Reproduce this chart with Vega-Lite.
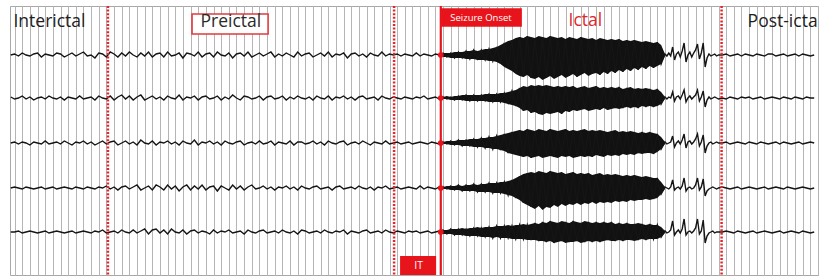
{
"$schema": "https://vega.github.io/schema/vega-lite/v6.json",
"width": 808, "height": 269,
"autosize": {"type": "none"},
"padding": {"left": 10, "top": 6, "right": 2, "bottom": 4},
"background": "white",
"config": {
  "font": "Open Sans",
  "view": {"stroke": "#a8a8a8", "strokeWidth": 1},
  "axisX": {"grid": true, "labels": false, "ticks": false, "domain": false, "tickCount": 106, "gridColor": "#b5b5b5", "gridWidth": 1, "gridOpacity": 1}
},
"datasets": {
"eeg": [
{"t":-0.5,"a":0,"b":1,"c":0,"d":0,"e":0},
{"t":0,"a":1,"b":-1,"c":1,"d":1,"e":0},
{"t":0.5,"a":-1,"b":0,"c":-1,"d":0,"e":1},
{"t":1,"a":2,"b":2,"c":1,"d":-1,"e":-1},
{"t":1.5,"a":0,"b":-1,"c":0,"d":1,"e":0},
{"t":2,"a":-1,"b":1,"c":-2,"d":0,"e":1},
{"t":2.5,"a":1,"b":-2,"c":1,"d":-1,"e":0},
{"t":3,"a":2,"b":0,"c":0,"d":0,"e":-1},
{"t":3.5,"a":-2,"b":1,"c":-1,"d":1,"e":0},
{"t":4,"a":1,"b":-1,"c":2,"d":-1,"e":1},
{"t":4.5,"a":0,"b":2,"c":-1,"d":0,"e":-1},
{"t":5,"a":-1,"b":0,"c":0,"d":1,"e":0},
{"t":5.5,"a":2,"b":-1,"c":1,"d":-1,"e":1},
{"t":6,"a":1,"b":1,"c":-1,"d":0,"e":0},
{"t":6.5,"a":-2,"b":-2,"c":2,"d":1,"e":-1},
{"t":7,"a":0,"b":1,"c":0,"d":0,"e":0},
{"t":7.5,"a":2,"b":0,"c":-2,"d":-1,"e":1},
{"t":8,"a":-1,"b":-1,"c":1,"d":1,"e":-1},
{"t":8.5,"a":1,"b":2,"c":0,"d":0,"e":0},
{"t":9,"a":3,"b":-1,"c":2,"d":-1,"e":1},
{"t":9.5,"a":-1,"b":0,"c":-1,"d":1,"e":0},
{"t":10,"a":0,"b":1,"c":1,"d":0,"e":-1},
{"t":10.5,"a":-3,"b":-2,"c":-2,"d":-1,"e":1},
{"t":11,"a":2,"b":2,"c":0,"d":1,"e":0},
{"t":11.5,"a":1,"b":0,"c":2,"d":0,"e":2},
{"t":12,"a":-2,"b":-1,"c":-1,"d":2,"e":-1},
{"t":12.5,"a":3,"b":2,"c":1,"d":-1,"e":0},
{"t":13,"a":1,"b":-2,"c":2,"d":1,"e":1},
{"t":13.5,"a":-2,"b":1,"c":-2,"d":-2,"e":-1},
{"t":14,"a":2,"b":3,"c":0,"d":1,"e":2},
{"t":14.5,"a":-1,"b":-1,"c":2,"d":2,"e":0},
{"t":15,"a":3,"b":2,"c":-1,"d":-1,"e":-1},
{"t":15.5,"a":0,"b":-2,"c":1,"d":1,"e":2},
{"t":16,"a":-2,"b":1,"c":-2,"d":3,"e":-1},
{"t":16.5,"a":2,"b":3,"c":3,"d":-2,"e":1},
{"t":17,"a":-1,"b":-2,"c":0,"d":0,"e":3},
{"t":17.5,"a":3,"b":0,"c":-1,"d":2,"e":-2},
{"t":18,"a":-2,"b":2,"c":2,"d":-2,"e":2},
{"t":18.5,"a":1,"b":-1,"c":-2,"d":3,"e":3},
{"t":19,"a":2,"b":1,"c":1,"d":1,"e":-1},
{"t":19.5,"a":-2,"b":-2,"c":0,"d":-2,"e":2},
{"t":20,"a":3,"b":2,"c":2,"d":3,"e":-2},
{"t":20.5,"a":-1,"b":0,"c":-1,"d":-1,"e":3},
{"t":21,"a":0,"b":-1,"c":1,"d":2,"e":0},
{"t":21.5,"a":2,"b":3,"c":-2,"d":-3,"e":-1},
{"t":22,"a":-3,"b":-2,"c":2,"d":1,"e":2},
{"t":22.5,"a":2,"b":1,"c":0,"d":3,"e":-2},
{"t":23,"a":1,"b":0,"c":-1,"d":-2,"e":1},
{"t":23.5,"a":-1,"b":2,"c":3,"d":2,"e":2},
{"t":24,"a":3,"b":-2,"c":-2,"d":-1,"e":-1},
{"t":24.5,"a":-2,"b":1,"c":1,"d":3,"e":1},
{"t":25,"a":1,"b":2,"c":0,"d":-2,"e":0},
{"t":25.5,"a":2,"b":-1,"c":2,"d":1,"e":-2},
{"t":26,"a":-2,"b":0,"c":-1,"d":2,"e":2},
{"t":26.5,"a":3,"b":2,"c":1,"d":-3,"e":-1},
{"t":27,"a":0,"b":-2,"c":-2,"d":2,"e":1},
{"t":27.5,"a":-1,"b":1,"c":2,"d":0,"e":0},
{"t":28,"a":2,"b":-1,"c":0,"d":-2,"e":2},
{"t":28.5,"a":-3,"b":3,"c":-1,"d":3,"e":-1},
{"t":29,"a":1,"b":0,"c":1,"d":-1,"e":0},
{"t":29.5,"a":2,"b":-2,"c":2,"d":2,"e":1},
{"t":30,"a":-1,"b":2,"c":-2,"d":-2,"e":-2},
{"t":30.5,"a":3,"b":1,"c":0,"d":1,"e":2},
{"t":31,"a":-2,"b":-1,"c":1,"d":3,"e":0},
{"t":31.5,"a":0,"b":0,"c":-1,"d":-1,"e":-1},
{"t":32,"a":2,"b":2,"c":2,"d":0,"e":1},
{"t":32.5,"a":-1,"b":-2,"c":-1,"d":2,"e":2},
{"t":33,"a":1,"b":1,"c":0,"d":-1,"e":-1},
{"t":33.5,"a":3,"b":2,"c":2,"d":1,"e":0},
{"t":34,"a":-2,"b":-1,"c":-2,"d":-2,"e":1},
{"t":34.5,"a":1,"b":0,"c":1,"d":1,"e":-1},
{"t":35,"a":-1,"b":2,"c":0,"d":0,"e":2},
{"t":35.5,"a":2,"b":-2,"c":-1,"d":2,"e":0},
{"t":36,"a":0,"b":1,"c":2,"d":-1,"e":-1},
{"t":36.5,"a":-2,"b":-1,"c":-2,"d":1,"e":1},
{"t":37,"a":3,"b":2,"c":1,"d":-2,"e":-2},
{"t":37.5,"a":-1,"b":0,"c":1,"d":2,"e":2},
{"t":38,"a":1,"b":-1,"c":-1,"d":0,"e":1},
{"t":38.5,"a":2,"b":1,"c":0,"d":-1,"e":-1},
{"t":39,"a":-2,"b":-2,"c":2,"d":1,"e":0},
{"t":39.5,"a":0,"b":2,"c":-1,"d":2,"e":1},
{"t":40,"a":2,"b":0,"c":1,"d":-1,"e":-1},
{"t":40.5,"a":-1,"b":-1,"c":-2,"d":0,"e":2},
{"t":41,"a":3,"b":2,"c":2,"d":1,"e":0},
{"t":41.5,"a":-2,"b":-2,"c":0,"d":-2,"e":-1},
{"t":42,"a":1,"b":1,"c":-1,"d":1,"e":1},
{"t":42.5,"a":0,"b":0,"c":1,"d":2,"e":0},
{"t":43,"a":2,"b":2,"c":2,"d":-1,"e":2},
{"t":43.5,"a":-3,"b":-1,"c":-2,"d":0,"e":-2},
{"t":44,"a":1,"b":1,"c":0,"d":1,"e":1},
{"t":44.5,"a":2,"b":-2,"c":1,"d":-1,"e":0},
{"t":45,"a":-1,"b":1,"c":-1,"d":2,"e":-1},
{"t":45.5,"a":1,"b":2,"c":2,"d":0,"e":1},
{"t":46,"a":-2,"b":-1,"c":0,"d":-1,"e":2},
{"t":46.5,"a":2,"b":0,"c":-2,"d":1,"e":-1},
{"t":47,"a":0,"b":1,"c":1,"d":-2,"e":0},
{"t":47.5,"a":-1,"b":-2,"c":0,"d":1,"e":1},
{"t":48,"a":3,"b":2,"c":-1,"d":0,"e":-1},
{"t":48.5,"a":-1,"b":0,"c":2,"d":2,"e":2},
{"t":49,"a":1,"b":-1,"c":-1,"d":-1,"e":0},
{"t":49.5,"a":0,"b":1,"c":0,"d":0,"e":-1},
{"t":50,"a":1,"b":0,"c":1,"d":1,"e":1},
{"t":50.5,"a":-1,"b":-1,"c":-1,"d":-1,"e":0},
{"t":51,"a":1,"b":1,"c":0,"d":0,"e":-1},
{"t":51.5,"a":0,"b":0,"c":1,"d":1,"e":1},
{"t":52,"a":-1,"b":-1,"c":-1,"d":0,"e":0},
{"t":52.5,"a":2,"b":1,"c":0,"d":-1,"e":1},
{"t":53,"a":-1,"b":0,"c":1,"d":2,"e":-1},
{"t":53.5,"a":1,"b":2,"c":0,"d":-1,"e":0},
{"t":54,"a":0,"b":-1,"c":-1,"d":1,"e":1},
{"t":54.5,"a":-1,"b":0,"c":1,"d":0,"e":-1},
{"t":55,"a":1,"b":1,"c":0,"d":-1,"e":0},
{"t":55.5,"a":0,"b":-1,"c":-1,"d":1,"e":1},
{"t":56,"a":2,"b":1,"c":1,"d":1,"e":2},
{"t":56.5,"a":-2,"b":-1,"c":-1,"d":-1,"e":-2},
{"t":57,"a":2,"b":1,"c":2,"d":2,"e":3},
{"t":57.5,"a":-3,"b":-2,"c":-2,"d":-2,"e":-3},
{"t":58,"a":3,"b":2,"c":3,"d":3,"e":3},
{"t":58.5,"a":-3,"b":-2,"c":-3,"d":-3,"e":-3},
{"t":59,"a":4,"b":3,"c":3,"d":3,"e":3},
{"t":59.5,"a":-4,"b":-3,"c":-3,"d":-3,"e":-4},
{"t":60,"a":5,"b":3,"c":4,"d":4,"e":4},
{"t":60.5,"a":-4,"b":-3,"c":-4,"d":-4,"e":-4},
{"t":61,"a":5,"b":3,"c":5,"d":4,"e":4},
{"t":61.5,"a":-5,"b":-3,"c":-5,"d":-4,"e":-5},
{"t":62,"a":6,"b":4,"c":6,"d":5,"e":5},
{"t":62.5,"a":-6,"b":-4,"c":-6,"d":-5,"e":-6},
{"t":63,"a":8,"b":4,"c":7,"d":5,"e":6},
{"t":63.5,"a":-8,"b":-4,"c":-7,"d":-5,"e":-6},
{"t":64,"a":12,"b":5,"c":9,"d":6,"e":6},
{"t":64.5,"a":-13,"b":-5,"c":-10,"d":-7,"e":-6},
{"t":65,"a":15,"b":7,"c":11,"d":8,"e":6},
{"t":65.5,"a":-18,"b":-8,"c":-12,"d":-10,"e":-7},
{"t":66,"a":18,"b":10,"c":13,"d":12,"e":7},
{"t":66.5,"a":-22,"b":-13,"c":-14,"d":-15,"e":-7},
{"t":67,"a":19,"b":11,"c":14,"d":15,"e":7},
{"t":67.5,"a":-23,"b":-15,"c":-15,"d":-19,"e":-8},
{"t":68,"a":17,"b":12,"c":12,"d":15,"e":9},
{"t":68.5,"a":-22,"b":-16,"c":-13,"d":-18,"e":-9},
{"t":69,"a":18,"b":12,"c":13,"d":16,"e":10},
{"t":69.5,"a":-23,"b":-15,"c":-14,"d":-19,"e":-10},
{"t":70,"a":19,"b":12,"c":14,"d":17,"e":11},
{"t":70.5,"a":-22,"b":-15,"c":-14,"d":-17,"e":-11},
{"t":71,"a":17,"b":12,"c":12,"d":15,"e":9},
{"t":71.5,"a":-20,"b":-16,"c":-13,"d":-16,"e":-9},
{"t":72,"a":16,"b":12,"c":14,"d":14,"e":10},
{"t":72.5,"a":-21,"b":-14,"c":-13,"d":-16,"e":-10},
{"t":73,"a":17,"b":12,"c":13,"d":16,"e":11},
{"t":73.5,"a":-22,"b":-13,"c":-14,"d":-15,"e":-9},
{"t":74,"a":18,"b":11,"c":13,"d":15,"e":9},
{"t":74.5,"a":-18,"b":-11,"c":-14,"d":-15,"e":-10},
{"t":75,"a":16,"b":10,"c":12,"d":15,"e":10},
{"t":75.5,"a":-19,"b":-12,"c":-14,"d":-14,"e":-10},
{"t":76,"a":15,"b":12,"c":12,"d":14,"e":10},
{"t":76.5,"a":-20,"b":-12,"c":-13,"d":-14,"e":-10},
{"t":77,"a":16,"b":11,"c":12,"d":13,"e":10},
{"t":77.5,"a":-19,"b":-12,"c":-12,"d":-14,"e":-8},
{"t":78,"a":16,"b":11,"c":12,"d":13,"e":10},
{"t":78.5,"a":-18,"b":-10,"c":-12,"d":-13,"e":-9},
{"t":79,"a":16,"b":11,"c":11,"d":13,"e":9},
{"t":79.5,"a":-17,"b":-10,"c":-11,"d":-13,"e":-9},
{"t":80,"a":15,"b":10,"c":11,"d":13,"e":9},
{"t":80.5,"a":-16,"b":-10,"c":-11,"d":-12,"e":-8},
{"t":81,"a":15,"b":9,"c":11,"d":13,"e":8},
{"t":81.5,"a":-15,"b":-10,"c":-10,"d":-12,"e":-8},
{"t":82,"a":13,"b":9,"c":11,"d":11,"e":8},
{"t":82.5,"a":-14,"b":-9,"c":-10,"d":-11,"e":-8},
{"t":83,"a":13,"b":9,"c":11,"d":11,"e":8},
{"t":83.5,"a":-13,"b":-9,"c":-11,"d":-11,"e":-7},
{"t":84,"a":13,"b":9,"c":9,"d":10,"e":7},
{"t":84.5,"a":-9,"b":-6,"c":-6,"d":-6,"e":-5},
{"t":85,"a":1,"b":1,"c":1,"d":1,"e":1},
{"t":85.25,"a":-1,"b":-1,"c":-1,"d":0,"e":-1},
{"t":85.5,"a":2,"b":1,"c":0,"d":-1,"e":0},
{"t":85.75,"a":-1,"b":0,"c":1,"d":1,"e":2},
{"t":86,"a":8,"b":6,"c":7,"d":8,"e":11},
{"t":86.25,"a":-5,"b":-3,"c":-4,"d":-2,"e":-3},
{"t":86.5,"a":1,"b":1,"c":0,"d":0,"e":0},
{"t":86.75,"a":3,"b":2,"c":2,"d":1,"e":2},
{"t":87,"a":-2,"b":-1,"c":-1,"d":-1,"e":-1},
{"t":87.25,"a":4,"b":3,"c":3,"d":2,"e":3},
{"t":87.5,"a":12,"b":8,"c":9,"d":10,"e":13},
{"t":87.75,"a":-7,"b":-4,"c":-5,"d":-3,"e":-3},
{"t":88,"a":0,"b":0,"c":1,"d":0,"e":0},
{"t":88.25,"a":3,"b":2,"c":2,"d":1,"e":1},
{"t":88.5,"a":-2,"b":-1,"c":-1,"d":-1,"e":-1},
{"t":88.75,"a":2,"b":1,"c":1,"d":0,"e":1},
{"t":89,"a":5,"b":3,"c":4,"d":3,"e":4},
{"t":89.25,"a":11,"b":8,"c":9,"d":10,"e":13},
{"t":89.5,"a":-4,"b":-3,"c":-3,"d":-2,"e":-2},
{"t":89.75,"a":2,"b":1,"c":1,"d":1,"e":1},
{"t":90,"a":12,"b":7,"c":8,"d":9,"e":12},
{"t":90.25,"a":-12,"b":-9,"c":-10,"d":-8,"e":-11},
{"t":90.5,"a":-3,"b":-2,"c":-3,"d":-3,"e":-4},
{"t":90.75,"a":1,"b":1,"c":0,"d":-1,"e":-1},
{"t":91,"a":-1,"b":-1,"c":1,"d":0,"e":0},
{"t":91.25,"a":0,"b":0,"c":-1,"d":1,"e":1},
{"t":91.5,"a":1,"b":1,"c":0,"d":0,"e":-1},
{"t":91.75,"a":-1,"b":0,"c":1,"d":-1,"e":0},
{"t":92,"a":0,"b":-1,"c":0,"d":0,"e":0},
{"t":92.5,"a":0,"b":0,"c":0,"d":1,"e":0},
{"t":93,"a":1,"b":-1,"c":1,"d":0,"e":1},
{"t":93.5,"a":-1,"b":1,"c":-1,"d":-1,"e":0},
{"t":94,"a":0,"b":0,"c":0,"d":0,"e":-1},
{"t":94.5,"a":1,"b":-1,"c":1,"d":1,"e":1},
{"t":95,"a":-1,"b":1,"c":0,"d":-1,"e":0},
{"t":95.5,"a":1,"b":0,"c":-1,"d":0,"e":-1},
{"t":96,"a":0,"b":1,"c":1,"d":1,"e":0},
{"t":96.5,"a":-1,"b":-1,"c":0,"d":0,"e":1},
{"t":97,"a":1,"b":0,"c":-1,"d":-1,"e":-1},
{"t":97.5,"a":0,"b":1,"c":1,"d":0,"e":0},
{"t":98,"a":-1,"b":-1,"c":0,"d":1,"e":1},
{"t":98.5,"a":1,"b":0,"c":-1,"d":-1,"e":0},
{"t":99,"a":1,"b":1,"c":0,"d":0,"e":-1},
{"t":99.5,"a":-1,"b":0,"c":1,"d":1,"e":0},
{"t":100,"a":0,"b":-1,"c":-1,"d":0,"e":1},
{"t":100.5,"a":1,"b":1,"c":1,"d":-1,"e":-1},
{"t":101,"a":-1,"b":0,"c":0,"d":1,"e":0},
{"t":101.5,"a":0,"b":-1,"c":-1,"d":0,"e":1},
{"t":102,"a":1,"b":1,"c":0,"d":-1,"e":0},
{"t":102.5,"a":-1,"b":0,"c":1,"d":0,"e":-1},
{"t":103,"a":1,"b":-1,"c":-1,"d":1,"e":1},
{"t":103.5,"a":0,"b":1,"c":0,"d":0,"e":0},
{"t":104,"a":-1,"b":0,"c":1,"d":-1,"e":-1},
{"t":104.5,"a":0,"b":0,"c":0,"d":0,"e":0}
],
"env": [
{"t":56,"ah":2,"al":-2,"bh":1,"bl":-1,"ch":1,"cl":-1,"dh":1,"dl":-1,"eh":2,"el":-2},
{"t":56.5,"ah":2,"al":-2,"bh":2,"bl":-1,"ch":2,"cl":-1,"dh":2,"dl":-1,"eh":2,"el":-2},
{"t":57,"ah":2,"al":-3,"bh":1,"bl":-2,"ch":2,"cl":-2,"dh":2,"dl":-2,"eh":3,"el":-2},
{"t":57.5,"ah":3,"al":-3,"bh":2,"bl":-2,"ch":2,"cl":-2,"dh":2,"dl":-2,"eh":3,"el":-3},
{"t":58,"ah":3,"al":-3,"bh":2,"bl":-2,"ch":3,"cl":-2,"dh":3,"dl":-2,"eh":3,"el":-3},
{"t":58.5,"ah":3,"al":-3,"bh":3,"bl":-2,"ch":3,"cl":-3,"dh":2,"dl":-3,"eh":4,"el":-3},
{"t":59,"ah":4,"al":-4,"bh":3,"bl":-3,"ch":3,"cl":-3,"dh":3,"dl":-3,"eh":3,"el":-4},
{"t":59.5,"ah":4,"al":-4,"bh":3,"bl":-3,"ch":4,"cl":-3,"dh":3,"dl":-3,"eh":4,"el":-4},
{"t":60,"ah":5,"al":-4,"bh":3,"bl":-3,"ch":4,"cl":-4,"dh":4,"dl":-3,"eh":4,"el":-4},
{"t":60.5,"ah":4,"al":-5,"bh":3,"bl":-3,"ch":4,"cl":-4,"dh":3,"dl":-4,"eh":5,"el":-4},
{"t":61,"ah":5,"al":-5,"bh":3,"bl":-3,"ch":5,"cl":-4,"dh":4,"dl":-4,"eh":4,"el":-5},
{"t":61.5,"ah":6,"al":-5,"bh":4,"bl":-3,"ch":5,"cl":-5,"dh":4,"dl":-4,"eh":5,"el":-5},
{"t":62,"ah":6,"al":-6,"bh":4,"bl":-4,"ch":6,"cl":-5,"dh":5,"dl":-4,"eh":5,"el":-5},
{"t":62.5,"ah":7,"al":-6,"bh":4,"bl":-4,"ch":6,"cl":-6,"dh":5,"dl":-5,"eh":5,"el":-6},
{"t":63,"ah":8,"al":-7,"bh":4,"bl":-4,"ch":7,"cl":-6,"dh":5,"dl":-5,"eh":6,"el":-5},
{"t":63.5,"ah":10,"al":-9,"bh":5,"bl":-4,"ch":8,"cl":-7,"dh":6,"dl":-5,"eh":6,"el":-6},
{"t":64,"ah":12,"al":-12,"bh":5,"bl":-5,"ch":9,"cl":-8,"dh":6,"dl":-6,"eh":6,"el":-6},
{"t":64.5,"ah":14,"al":-14,"bh":6,"bl":-6,"ch":10,"cl":-10,"dh":7,"dl":-7,"eh":7,"el":-6},
{"t":65,"ah":15,"al":-16,"bh":7,"bl":-7,"ch":11,"cl":-11,"dh":8,"dl":-8,"eh":6,"el":-7},
{"t":65.5,"ah":17,"al":-19,"bh":8,"bl":-8,"ch":12,"cl":-12,"dh":10,"dl":-10,"eh":7,"el":-7},
{"t":66,"ah":18,"al":-21,"bh":10,"bl":-10,"ch":13,"cl":-13,"dh":12,"dl":-12,"eh":7,"el":-7},
{"t":66.5,"ah":17,"al":-22,"bh":12,"bl":-13,"ch":12,"cl":-14,"dh":14,"dl":-15,"eh":8,"el":-7},
{"t":67,"ah":19,"al":-20,"bh":11,"bl":-12,"ch":14,"cl":-13,"dh":15,"dl":-17,"eh":7,"el":-8},
{"t":67.5,"ah":18,"al":-23,"bh":13,"bl":-15,"ch":13,"cl":-15,"dh":16,"dl":-19,"eh":8,"el":-8},
{"t":68,"ah":17,"al":-24,"bh":12,"bl":-14,"ch":12,"cl":-14,"dh":15,"dl":-21,"eh":9,"el":-8},
{"t":68.5,"ah":19,"al":-22,"bh":13,"bl":-16,"ch":14,"cl":-13,"dh":17,"dl":-18,"eh":8,"el":-9},
{"t":69,"ah":18,"al":-25,"bh":12,"bl":-17,"ch":13,"cl":-15,"dh":16,"dl":-22,"eh":10,"el":-9},
{"t":69.5,"ah":17,"al":-23,"bh":13,"bl":-15,"ch":12,"cl":-14,"dh":15,"dl":-19,"eh":9,"el":-10},
{"t":70,"ah":19,"al":-21,"bh":12,"bl":-16,"ch":14,"cl":-13,"dh":17,"dl":-20,"eh":11,"el":-9},
{"t":70.5,"ah":18,"al":-24,"bh":11,"bl":-15,"ch":13,"cl":-14,"dh":16,"dl":-17,"eh":10,"el":-11},
{"t":71,"ah":17,"al":-22,"bh":12,"bl":-14,"ch":12,"cl":-15,"dh":15,"dl":-19,"eh":9,"el":-10},
{"t":71.5,"ah":18,"al":-20,"bh":11,"bl":-16,"ch":13,"cl":-13,"dh":16,"dl":-16,"eh":11,"el":-9},
{"t":72,"ah":16,"al":-23,"bh":12,"bl":-13,"ch":14,"cl":-14,"dh":14,"dl":-18,"eh":10,"el":-11},
{"t":72.5,"ah":18,"al":-21,"bh":11,"bl":-14,"ch":12,"cl":-13,"dh":15,"dl":-16,"eh":9,"el":-10},
{"t":73,"ah":17,"al":-19,"bh":12,"bl":-12,"ch":13,"cl":-15,"dh":16,"dl":-17,"eh":11,"el":-10},
{"t":73.5,"ah":16,"al":-22,"bh":10,"bl":-13,"ch":12,"cl":-14,"dh":14,"dl":-15,"eh":10,"el":-9},
{"t":74,"ah":18,"al":-20,"bh":11,"bl":-12,"ch":13,"cl":-13,"dh":15,"dl":-17,"eh":9,"el":-11},
{"t":74.5,"ah":17,"al":-18,"bh":12,"bl":-11,"ch":14,"cl":-14,"dh":14,"dl":-15,"eh":11,"el":-10},
{"t":75,"ah":16,"al":-21,"bh":10,"bl":-13,"ch":12,"cl":-13,"dh":15,"dl":-16,"eh":10,"el":-9},
{"t":75.5,"ah":17,"al":-19,"bh":11,"bl":-12,"ch":13,"cl":-14,"dh":13,"dl":-14,"eh":9,"el":-10},
{"t":76,"ah":15,"al":-18,"bh":12,"bl":-11,"ch":12,"cl":-12,"dh":14,"dl":-16,"eh":10,"el":-9},
{"t":76.5,"ah":17,"al":-20,"bh":10,"bl":-12,"ch":13,"cl":-13,"dh":15,"dl":-14,"eh":9,"el":-10},
{"t":77,"ah":16,"al":-17,"bh":11,"bl":-10,"ch":12,"cl":-14,"dh":13,"dl":-15,"eh":10,"el":-9},
{"t":77.5,"ah":15,"al":-19,"bh":10,"bl":-12,"ch":11,"cl":-12,"dh":14,"dl":-14,"eh":9,"el":-8},
{"t":78,"ah":16,"al":-16,"bh":11,"bl":-11,"ch":12,"cl":-13,"dh":13,"dl":-15,"eh":10,"el":-9},
{"t":78.5,"ah":15,"al":-18,"bh":10,"bl":-10,"ch":13,"cl":-12,"dh":14,"dl":-13,"eh":8,"el":-9},
{"t":79,"ah":16,"al":-15,"bh":11,"bl":-11,"ch":11,"cl":-13,"dh":13,"dl":-14,"eh":9,"el":-8},
{"t":79.5,"ah":14,"al":-17,"bh":9,"bl":-10,"ch":12,"cl":-11,"dh":12,"dl":-13,"eh":8,"el":-9},
{"t":80,"ah":15,"al":-14,"bh":10,"bl":-9,"ch":11,"cl":-12,"dh":13,"dl":-14,"eh":9,"el":-8},
{"t":80.5,"ah":14,"al":-16,"bh":11,"bl":-10,"ch":12,"cl":-11,"dh":12,"dl":-12,"eh":8,"el":-8},
{"t":81,"ah":15,"al":-13,"bh":9,"bl":-9,"ch":11,"cl":-12,"dh":13,"dl":-13,"eh":8,"el":-9},
{"t":81.5,"ah":14,"al":-15,"bh":10,"bl":-10,"ch":10,"cl":-10,"dh":12,"dl":-12,"eh":9,"el":-8},
{"t":82,"ah":13,"al":-12,"bh":9,"bl":-8,"ch":11,"cl":-11,"dh":11,"dl":-12,"eh":8,"el":-7},
{"t":82.5,"ah":14,"al":-14,"bh":10,"bl":-9,"ch":10,"cl":-10,"dh":12,"dl":-11,"eh":7,"el":-8},
{"t":83,"ah":13,"al":-11,"bh":9,"bl":-8,"ch":11,"cl":-10,"dh":11,"dl":-12,"eh":8,"el":-7},
{"t":83.5,"ah":12,"al":-13,"bh":8,"bl":-9,"ch":10,"cl":-11,"dh":10,"dl":-11,"eh":7,"el":-7},
{"t":84,"ah":13,"al":-11,"bh":9,"bl":-8,"ch":9,"cl":-9,"dh":10,"dl":-10,"eh":7,"el":-7},
{"t":84.5,"ah":10,"al":-9,"bh":6,"bl":-6,"ch":6,"cl":-6,"dh":6,"dl":-6,"eh":5,"el":-5},
{"t":85,"ah":1,"al":-1,"bh":1,"bl":-1,"ch":1,"cl":-1,"dh":1,"dl":-1,"eh":1,"el":-1}
]
},
"encoding": {
  "x": {"field": "t", "type": "quantitative", "title": null, "scale": {"domain": [-0.6, 105], "nice": false, "zero": false}}
},
"layer": [
  {"layer": [
    {"data": {"name": "env"}, "mark": {"type": "area", "color": "#111111", "opacity": 1},
     "encoding": {"y": {"field": "ah", "type": "quantitative", "axis": null, "scale": {"domain": [-220, 49]}}, "y2": {"field": "al"}}},
    {"data": {"name": "eeg"}, "mark": {"type": "line", "color": "#151515", "strokeWidth": 1.4},
     "encoding": {"y": {"field": "a", "type": "quantitative", "axis": null, "scale": {"domain": [-220, 49]}}}}
  ]},
  {"layer": [
    {"data": {"name": "env"}, "mark": {"type": "area", "color": "#111111", "opacity": 1},
     "encoding": {"y": {"field": "bh", "type": "quantitative", "axis": null, "scale": {"domain": [-177, 92]}}, "y2": {"field": "bl"}}},
    {"data": {"name": "eeg"}, "mark": {"type": "line", "color": "#151515", "strokeWidth": 1.4},
     "encoding": {"y": {"field": "b", "type": "quantitative", "axis": null, "scale": {"domain": [-177, 92]}}}}
  ]},
  {"layer": [
    {"data": {"name": "env"}, "mark": {"type": "area", "color": "#111111", "opacity": 1},
     "encoding": {"y": {"field": "ch", "type": "quantitative", "axis": null, "scale": {"domain": [-132, 137]}}, "y2": {"field": "cl"}}},
    {"data": {"name": "eeg"}, "mark": {"type": "line", "color": "#151515", "strokeWidth": 1.4},
     "encoding": {"y": {"field": "c", "type": "quantitative", "axis": null, "scale": {"domain": [-132, 137]}}}}
  ]},
  {"layer": [
    {"data": {"name": "env"}, "mark": {"type": "area", "color": "#111111", "opacity": 1},
     "encoding": {"y": {"field": "dh", "type": "quantitative", "axis": null, "scale": {"domain": [-87, 182]}}, "y2": {"field": "dl"}}},
    {"data": {"name": "eeg"}, "mark": {"type": "line", "color": "#151515", "strokeWidth": 1.4},
     "encoding": {"y": {"field": "d", "type": "quantitative", "axis": null, "scale": {"domain": [-87, 182]}}}}
  ]},
  {"layer": [
    {"data": {"name": "env"}, "mark": {"type": "area", "color": "#111111", "opacity": 1},
     "encoding": {"y": {"field": "eh", "type": "quantitative", "axis": null, "scale": {"domain": [-43, 226]}}, "y2": {"field": "el"}}},
    {"data": {"name": "eeg"}, "mark": {"type": "line", "color": "#151515", "strokeWidth": 1.4},
     "encoding": {"y": {"field": "e", "type": "quantitative", "axis": null, "scale": {"domain": [-43, 226]}}}}
  ]},
  {"data": {"values": [{"t": 12.2, "boundary": "Interictal/Preictal"}, {"t": 49.6, "boundary": "Preictal/IT"}, {"t": 92.4, "boundary": "Ictal/Post-ictal"}]},
   "mark": {"type": "rule", "color": "#e3262b", "strokeWidth": 2.5, "strokeDash": [2, 1.6]},
   "encoding": {}},
  {"data": {"values": [{"t": 55.7, "boundary": "Seizure Onset"}]},
   "mark": {"type": "rule", "color": "#e8141c", "strokeWidth": 2.2},
   "encoding": {}},
  {"data": {"values": [{"t": 55.7, "y": 0}, {"t": 55.7, "y": -43}, {"t": 55.7, "y": -88}, {"t": 55.7, "y": -133}, {"t": 55.7, "y": -177}]},
   "mark": {"type": "circle", "color": "#e8141c", "size": 32, "opacity": 1},
   "encoding": {"y": {"field": "y", "type": "quantitative", "axis": null, "scale": {"domain": [-220, 49]}}}},
  {"data": {"values": [{"label": "Seizure Onset", "t": 55.74, "t2": 66.3, "y": 46.7, "y2": 28.3}, {"label": "IT", "t": 50.38, "t2": 55.09, "y": -201, "y2": -220}]},
   "mark": {"type": "rect", "color": "#e8141c", "opacity": 1},
   "encoding": {"x2": {"field": "t2"}, "y": {"field": "y", "type": "quantitative", "axis": null, "scale": {"domain": [-220, 49]}}, "y2": {"field": "y2"}}},
  {"data": {"values": [{"label": "Preictal", "t": 23.19, "t2": 33.13, "y": 41, "y2": 21}]},
   "mark": {"type": "rect", "fill": "white", "stroke": "#e03a3e", "strokeWidth": 1.6},
   "encoding": {"x2": {"field": "t2"}, "y": {"field": "y", "type": "quantitative", "axis": null, "scale": {"domain": [-220, 49]}}, "y2": {"field": "y2"}}},
  {"data": {"values": [{"label": "Interictal", "t": -0.15, "y": 28.3}, {"label": "Post-ictal", "t": 95.8, "y": 28.3}]},
   "mark": {"type": "text", "align": "left", "baseline": "alphabetic", "fontSize": 17.5, "color": "#1e1e1e", "clip": true},
   "encoding": {"text": {"field": "label"}, "y": {"field": "y", "type": "quantitative", "axis": null, "scale": {"domain": [-220, 49]}}}},
  {"data": {"values": [{"label": "Preictal", "t": 28.27, "y": 28.3}]},
   "mark": {"type": "text", "align": "center", "baseline": "alphabetic", "fontSize": 17.5, "color": "#2a2a2a"},
   "encoding": {"text": {"field": "label"}, "y": {"field": "y", "type": "quantitative", "axis": null, "scale": {"domain": [-220, 49]}}}},
  {"data": {"values": [{"label": "Ictal", "t": 74.6, "y": 29.5}]},
   "mark": {"type": "text", "align": "center", "baseline": "alphabetic", "fontSize": 17.5, "color": "#e0262e"},
   "encoding": {"text": {"field": "label"}, "y": {"field": "y", "type": "quantitative", "axis": null, "scale": {"domain": [-220, 49]}}}},
  {"data": {"values": [{"label": "Seizure Onset", "t": 60.95, "y": 34.3}]},
   "mark": {"type": "text", "align": "center", "baseline": "alphabetic", "fontSize": 9.5, "color": "white"},
   "encoding": {"text": {"field": "label"}, "y": {"field": "y", "type": "quantitative", "axis": null, "scale": {"domain": [-220, 49]}}}},
  {"data": {"values": [{"label": "IT", "t": 52.8, "y": -214.3}]},
   "mark": {"type": "text", "align": "center", "baseline": "alphabetic", "fontSize": 10.5, "color": "white"},
   "encoding": {"text": {"field": "label"}, "y": {"field": "y", "type": "quantitative", "axis": null, "scale": {"domain": [-220, 49]}}}}
],
"resolve": {"scale": {"y": "independent"}}
}
